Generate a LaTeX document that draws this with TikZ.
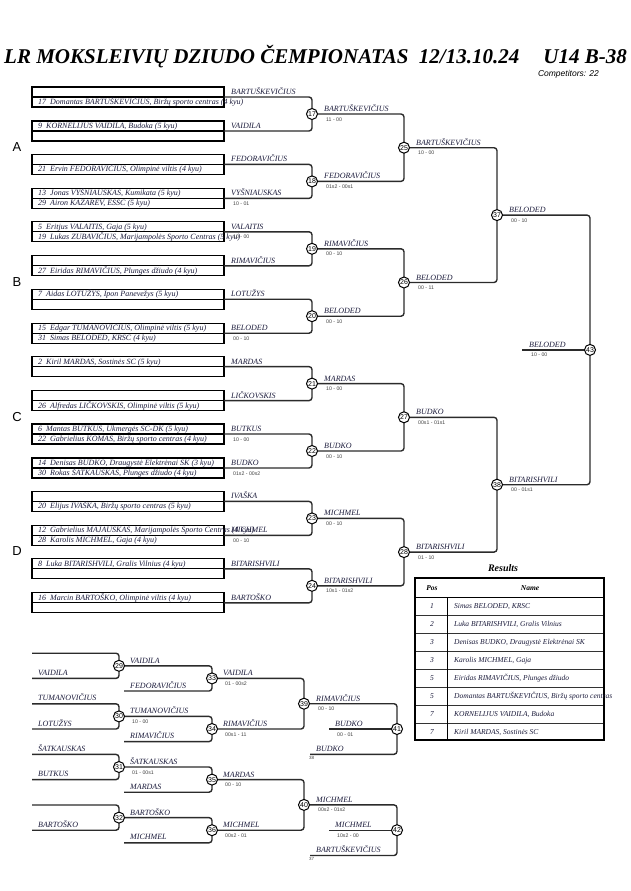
\documentclass[tikz,border=0pt]{standalone}
\usepackage{fontspec}
\setmainfont{Liberation Serif}
\setsansfont{Liberation Sans}
\definecolor{namec}{HTML}{1A1A3A}
\definecolor{linec}{HTML}{2B2B2B}
\tikzset{
 rowbox/.style={draw=black, line width=1.2pt, minimum width=192pt, minimum height=10pt, inner sep=0pt, outer sep=0pt},
 nm/.style={anchor=base west, inner sep=0pt, font=\fontsize{8}{9}\selectfont\itshape, text=namec},
 win/.style={anchor=base west, inner sep=0pt, font=\fontsize{8}{9}\selectfont\itshape, text=namec},
 sc/.style={anchor=base west, inner sep=0pt, font=\sffamily\fontsize{5.2}{6}\selectfont, text=black!75},
 tiny/.style={anchor=base west, inner sep=0pt, font=\sffamily\fontsize{4.5}{5}\selectfont, text=black!75},
 br/.style={draw=linec, line width=1.4pt, rounded corners=3pt},
 circ/.style={circle, draw=black, fill=white, line width=1pt, minimum size=11pt, inner sep=0pt, font=\sffamily\fontsize{7}{7}\selectfont},
 pool/.style={font=\sffamily\fontsize{13}{13}\selectfont, inner sep=0pt},
 tcell/.style={inner sep=0pt, font=\fontsize{7.5}{9}\selectfont\itshape, text=namec},
 thead/.style={inner sep=0pt, font=\fontsize{7.5}{9}\selectfont\bfseries\itshape}
}
\newcommand\pairbx[6]{%
 \node[rowbox] (#1u) at (128,#2-5) {};
 \node[rowbox] (#1l) at (128,#2+5) {};
 \node[nm] (#1ut) at (38,#2-2.5) {#3};
 \node[nm] (#1lt) at (38,#2+7.5) {#4};
 \node[win] (#1w) at (231,#2-2.5) {#5};
 \node[sc] (#1s) at (233,#2+7) {#6};
}
\newcommand\wlab[5]{%
 \node[win] (#1) at (#2,#3-2.5) {#4};
 \node[sc] (#1s) at (#2+2,#3+7) {#5};
}
\begin{document}
\begin{tikzpicture}[x=1pt,y=-1pt]
\useasboundingbox (0,0) rectangle (630,891);

% title
\node[anchor=base west, inner sep=0pt, font=\fontsize{21}{22}\selectfont\bfseries\itshape] (title) at (4,63.5) {LR MOKSLEIVIŲ DZIUDO ČEMPIONATAS\ \ 12/13.10.24};
\node[anchor=base east, inner sep=0pt, font=\fontsize{21}{22}\selectfont\bfseries\itshape] (cat) at (627,63.5) {U14 B-38};
\node[anchor=base east, inner sep=0pt, font=\sffamily\itshape\fontsize{8.5}{9}\selectfont] (comp) at (599,76) {Competitors: 22};

% pools
\node[pool] (pA) at (17,147) {A};
\node[pool] (pB) at (17,282) {B};
\node[pool] (pC) at (17,417) {C};
\node[pool] (pD) at (17,551) {D};

% competitor boxes
\pairbx{p17a}{97}{}{17\ \ Domantas BARTUŠKEVIČIUS, Biržų sporto centras (4 kyu)}{BARTUŠKEVIČIUS}{}
\pairbx{p17b}{131}{9\ \ KORNELIJUS VAIDILA, Budoka (5 kyu)}{}{VAIDILA}{}
\pairbx{p18a}{164.4}{}{21\ \ Ervin FEDORAVIČIUS, Olimpinė viltis (4 kyu)}{FEDORAVIČIUS}{}
\pairbx{p18b}{198.4}{13\ \ Jonas VYŠNIAUSKAS, Kumikata (5 kyu)}{29\ \ Airon KAZAREV, ESSC (5 kyu)}{VYŠNIAUSKAS}{10 - 01}
\pairbx{p19a}{231.8}{5\ \ Eritjus VALAITIS, Gaja (5 kyu)}{19\ \ Lukas ZUBAVIČIUS, Marijampolės Sporto Centras (5 kyu)}{VALAITIS}{10 - 00}
\pairbx{p19b}{265.8}{}{27\ \ Eiridas RIMAVIČIUS, Plunges džiudo (4 kyu)}{RIMAVIČIUS}{}
\pairbx{p20a}{299.2}{7\ \ Aidas LOTUŽYS, Ipon Panevežys (5 kyu)}{}{LOTUŽYS}{}
\pairbx{p20b}{333.2}{15\ \ Edgar TUMANOVIČIUS, Olimpinė viltis (5 kyu)}{31\ \ Simas BELODED, KRSC (4 kyu)}{BELODED}{00 - 10}
\pairbx{p21a}{366.6}{2\ \ Kiril MARDAS, Sostinės SC (5 kyu)}{}{MARDAS}{}
\pairbx{p21b}{400.6}{}{26\ \ Alfredas LIČKOVSKIS, Olimpinė viltis (5 kyu)}{LIČKOVSKIS}{}
\pairbx{p22a}{434}{6\ \ Mantas BUTKUS, Ukmergės SC-DK (5 kyu)}{22\ \ Gabrielius KOMAS, Biržų sporto centras (4 kyu)}{BUTKUS}{10 - 00}
\pairbx{p22b}{468}{14\ \ Denisas BUDKO, Draugystė Elektrėnai SK (3 kyu)}{30\ \ Rokas ŠATKAUSKAS, Plunges džiudo (4 kyu)}{BUDKO}{01s2 - 00s2}
\pairbx{p23a}{501.4}{}{20\ \ Elijus IVAŠKA, Biržų sporto centras (5 kyu)}{IVAŠKA}{}
\pairbx{p23b}{535.4}{12\ \ Gabrielius MAJAUSKAS, Marijampolės Sporto Centras (4 kyu)}{28\ \ Karolis MICHMEL, Gaja (4 kyu)}{MICHMEL}{00 - 10}
\pairbx{p24a}{568.8}{8\ \ Luka BITARISHVILI, Gralis Vilnius (4 kyu)}{}{BITARISHVILI}{}
\pairbx{p24b}{602.8}{16\ \ Marcin BARTOŠKO, Olimpinė viltis (4 kyu)}{}{BARTOŠKO}{}

% match centres
\coordinate (c17) at (312,114);
\coordinate (c18) at (312,181.4);
\coordinate (c19) at (312,248.8);
\coordinate (c20) at (312,316.2);
\coordinate (c21) at (312,383.6);
\coordinate (c22) at (312,451);
\coordinate (c23) at (312,518.4);
\coordinate (c24) at (312,585.8);
\coordinate (c25) at (404,147.7);
\coordinate (c26) at (404,282.5);
\coordinate (c27) at (404,417.3);
\coordinate (c28) at (404,552.1);
\coordinate (c37) at (497,215.1);
\coordinate (c38) at (497,484.7);
\coordinate (c43) at (590,349.9);
\coordinate (f43) at (522,349.9);

% round 1 brackets
\foreach \m in {17,...,24}{
 \draw[br] (p\m au.south east) -| (c\m) |- (p\m bu.south east);
}
% later rounds
\draw[br] (c17) -| (c25) |- (c18);
\draw[br] (c19) -| (c26) |- (c20);
\draw[br] (c21) -| (c27) |- (c22);
\draw[br] (c23) -| (c28) |- (c24);
\draw[br] (c25) -| (c37) |- (c26);
\draw[br] (c27) -| (c38) |- (c28);
\draw[br] (c37) -| (c43) |- (c38);
\draw[br] (f43) -- (c43);

% winner labels
\wlab{w17}{324}{114}{BARTUŠKEVIČIUS}{11 - 00}
\wlab{w18}{324}{181.4}{FEDORAVIČIUS}{01s2 - 00s1}
\wlab{w19}{324}{248.8}{RIMAVIČIUS}{00 - 10}
\wlab{w20}{324}{316.2}{BELODED}{00 - 10}
\wlab{w21}{324}{383.6}{MARDAS}{10 - 00}
\wlab{w22}{324}{451}{BUDKO}{00 - 10}
\wlab{w23}{324}{518.4}{MICHMEL}{00 - 10}
\wlab{w24}{324}{585.8}{BITARISHVILI}{10s1 - 01s2}
\wlab{w25}{416}{147.7}{BARTUŠKEVIČIUS}{10 - 00}
\wlab{w26}{416}{282.5}{BELODED}{00 - 11}
\wlab{w27}{416}{417.3}{BUDKO}{00s1 - 01s1}
\wlab{w28}{416}{552.1}{BITARISHVILI}{01 - 10}
\wlab{w37}{509}{215.1}{BELODED}{00 - 10}
\wlab{w38}{509}{484.7}{BITARISHVILI}{00 - 01s1}
\wlab{w43}{529}{349.9}{BELODED}{10 - 00}

% repechage coordinates
\coordinate (i29a) at (32,653.2);
\coordinate (i29b) at (32,678.4);
\coordinate (c29) at (119,665.8);
\coordinate (i30a) at (32,703.8);
\coordinate (i30b) at (32,729);
\coordinate (c30) at (119,716.4);
\coordinate (i31a) at (32,754.4);
\coordinate (i31b) at (32,779.6);
\coordinate (c31) at (119,767);
\coordinate (i32a) at (32,805);
\coordinate (i32b) at (32,830.2);
\coordinate (c32) at (119,817.6);
\coordinate (i33) at (124,691);
\coordinate (c33) at (212,678.4);
\coordinate (i34) at (124,741.6);
\coordinate (c34) at (212,729);
\coordinate (i35) at (124,792.2);
\coordinate (c35) at (212,779.6);
\coordinate (i36) at (124,842.8);
\coordinate (c36) at (212,830.2);
\coordinate (c39) at (304,703.7);
\coordinate (c40) at (304,804.9);
\coordinate (c41) at (397,729);
\coordinate (f41) at (329,729);
\coordinate (i41) at (310,754.3);
\coordinate (c42) at (397,830.2);
\coordinate (f42) at (329,830.2);
\coordinate (i42) at (310,855.5);

\draw[br] (i29a) -| (c29) |- (i29b);
\draw[br] (i30a) -| (c30) |- (i30b);
\draw[br] (i31a) -| (c31) |- (i31b);
\draw[br] (i32a) -| (c32) |- (i32b);
\draw[br] (c29) -| (c33) |- (i33);
\draw[br] (c30) -| (c34) |- (i34);
\draw[br] (c31) -| (c35) |- (i35);
\draw[br] (c32) -| (c36) |- (i36);
\draw[br] (c33) -| (c39) |- (c34);
\draw[br] (c35) -| (c40) |- (c36);
\draw[br] (c39) -| (c41) |- (i41);
\draw[br] (c40) -| (c42) |- (i42);
\draw[br] (f41) -- (c41);
\draw[br] (f42) -- (c42);

% repechage labels
\node[win] (r29b) at (38,675.4) {VAIDILA};
\node[win] (r30a) at (38,700.8) {TUMANOVIČIUS};
\node[win] (r30b) at (38,726) {LOTUŽYS};
\node[win] (r31a) at (38,751.4) {ŠATKAUSKAS};
\node[win] (r31b) at (38,776.6) {BUTKUS};
\node[win] (r32b) at (38,827.2) {BARTOŠKO};
\node[win] (r33i) at (130,688) {FEDORAVIČIUS};
\node[win] (r34i) at (130,738.6) {RIMAVIČIUS};
\node[win] (r35i) at (130,789.2) {MARDAS};
\node[win] (r36i) at (130,839.8) {MICHMEL};
\wlab{w29}{130}{665.8}{VAIDILA}{}
\wlab{w30}{130}{716.4}{TUMANOVIČIUS}{10 - 00}
\wlab{w31}{130}{767}{ŠATKAUSKAS}{01 - 00s1}
\wlab{w32}{130}{817.6}{BARTOŠKO}{}
\wlab{w33}{223}{678.4}{VAIDILA}{01 - 00s2}
\wlab{w34}{223}{729}{RIMAVIČIUS}{00s1 - 11}
\wlab{w35}{223}{779.6}{MARDAS}{00 - 10}
\wlab{w36}{223}{830.2}{MICHMEL}{00s2 - 01}
\wlab{w39}{316}{703.7}{RIMAVIČIUS}{00 - 10}
\wlab{w40}{316}{804.9}{MICHMEL}{00s2 - 01s2}
\wlab{w41}{335}{729}{BUDKO}{00 - 01}
\wlab{w42}{335}{830.2}{MICHMEL}{10s2 - 00}
\node[win] (r41i) at (316,751.3) {BUDKO};
\node[tiny] (r41n) at (309,759) {38};
\node[win] (r42i) at (316,852.5) {BARTUŠKEVIČIUS};
\node[tiny] (r42n) at (309,860) {37};

% circles
\foreach \m in {17,...,43}{
 \ifnum\m<25 \node[circ] (m\m) at (c\m) {\m};\fi
}
\foreach \m in {25,26,27,28,29,30,31,32,33,34,35,36,37,38,39,40,41,42,43}{
 \node[circ] (m\m) at (c\m) {\m};
}

% results table
\node[inner sep=0pt, font=\fontsize{10}{11}\selectfont\bfseries\itshape] (restitle) at (503,568) {Results};
\draw[line width=0.9pt] (415,597) -- (604,597);
\foreach \k in {1,...,7}{
 \draw[line width=0.8pt, black!80] (415,597+18*\k) -- (604,597+18*\k);
}
\draw[line width=0.8pt] (447.7,597) -- (447.7,740);
\node[draw, line width=1.8pt, minimum width=189pt, minimum height=162pt, inner sep=0pt] (tbl) at (509.5,659) {};
\node[thead] (hpos) at (432,588) {Pos};
\node[thead] (hname) at (530,588) {Name};
\node[tcell] (q1) at (432,606) {1};
\node[tcell] (q2) at (432,624) {2};
\node[tcell] (q3) at (432,642) {3};
\node[tcell] (q4) at (432,660) {3};
\node[tcell] (q5) at (432,678) {5};
\node[tcell] (q6) at (432,696) {5};
\node[tcell] (q7) at (432,714) {7};
\node[tcell] (q8) at (432,732) {7};
\node[tcell, anchor=base west] (n1) at (454,608.7) {Simas BELODED, KRSC};
\node[tcell, anchor=base west] (n2) at (454,626.7) {Luka BITARISHVILI, Gralis Vilnius};
\node[tcell, anchor=base west] (n3) at (454,644.7) {Denisas BUDKO, Draugystė Elektrėnai SK};
\node[tcell, anchor=base west] (n4) at (454,662.7) {Karolis MICHMEL, Gaja};
\node[tcell, anchor=base west] (n5) at (454,680.7) {Eiridas RIMAVIČIUS, Plunges džiudo};
\node[tcell, anchor=base west] (n6) at (454,698.7) {Domantas BARTUŠKEVIČIUS, Biržų sporto centras};
\node[tcell, anchor=base west] (n7) at (454,716.7) {KORNELIJUS VAIDILA, Budoka};
\node[tcell, anchor=base west] (n8) at (454,734.7) {Kiril MARDAS, Sostinės SC};
\end{tikzpicture}
\end{document}
